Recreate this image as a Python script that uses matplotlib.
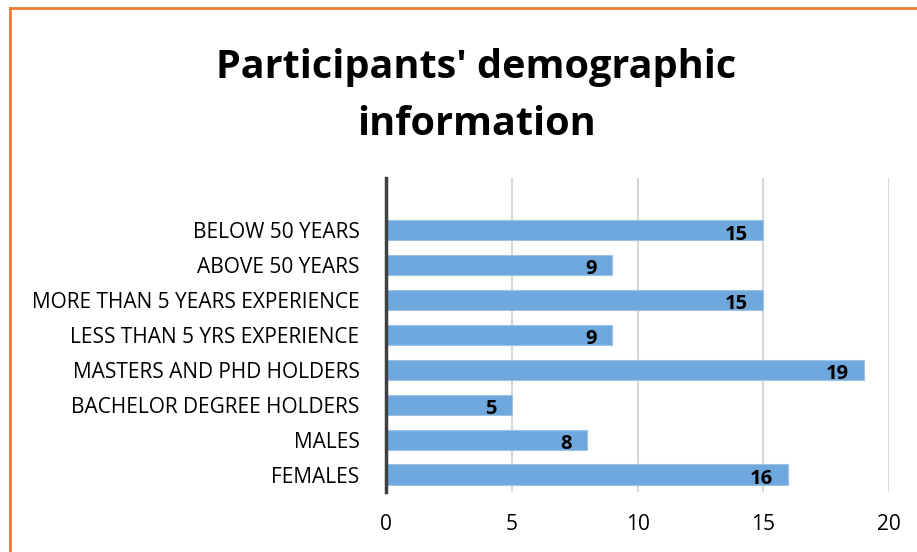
import matplotlib.pyplot as plt
from matplotlib.lines import Line2D

# donnees
categories = ["FEMALES", "MALES", "BACHELOR DEGREE HOLDERS", "MASTERS AND PHD HOLDERS",
              "LESS THAN 5 YRS EXPERIENCE", "MORE THAN 5 YEARS EXPERIENCE",
              "ABOVE 50 YEARS", "BELOW 50 YEARS"]
values = [16, 8, 5, 19, 9, 15, 9, 15]
xticks = [0, 5, 10, 15, 20]

plt.rcParams['font.family'] = ['Open Sans', 'DejaVu Sans']

fig = plt.figure(figsize=(9.17, 5.52), dpi=100)
ax = fig.add_axes([386/917, 1 - 492/552, (889 - 386)/917, (492 - 178)/552])

ypos = list(range(len(categories)))
ax.barh(ypos, values, height=0.58, color='#6FA8DC', edgecolor='#9DC3E6', linewidth=0.8, zorder=2)

for y, v in zip(ypos, values):
    ax.annotate(str(v), (v, y), xytext=(-11, -3), textcoords='offset points',
                ha='right', va='center', fontsize=14.5, fontweight='bold', zorder=3)

ax.set_xlim(0, 20)
ax.set_ylim(-0.5, 8.5)
ax.set_xticks(xticks)
ax.set_yticks(ypos)
ax.set_yticklabels(categories)
ax.tick_params(axis='both', length=0, labelsize=15, colors='black')
ax.tick_params(axis='y', pad=19)
ax.tick_params(axis='x', pad=16)
ax.xaxis.grid(True, color='#D0D0D0', linewidth=1.2, zorder=0)
ax.set_axisbelow(True)
for s in ['top', 'right', 'bottom']:
    ax.spines[s].set_visible(False)
ax.spines['left'].set_color('#404040')
ax.spines['left'].set_linewidth(2.5)
ax.spines['left'].set_zorder(4)

fig.text(476/917, 1 - 96/552, "Participants' demographic\ninformation", ha='center', va='center',
         fontsize=28.5, fontweight='bold', linespacing=1.62)

# bordure orange
bx = 10/917
by = 1 - 8/552
fig.add_artist(Line2D([bx, bx], [0, by], color='#ED7D31', linewidth=2, transform=fig.transFigure))
fig.add_artist(Line2D([bx, 1], [by, by], color='#ED7D31', linewidth=2, transform=fig.transFigure))

fig.savefig('out.png', dpi=100)
